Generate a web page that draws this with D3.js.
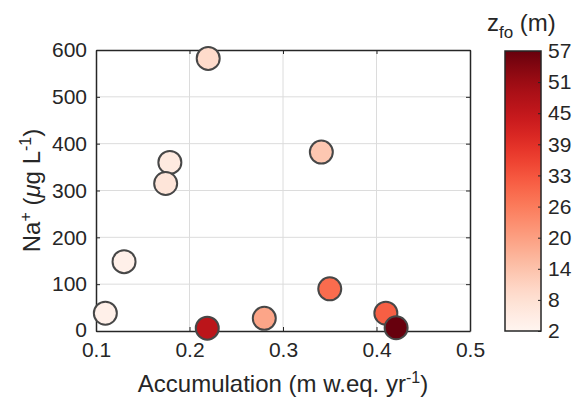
<!DOCTYPE html>
<html><head><meta charset="utf-8">
<script src="https://cdn.jsdelivr.net/npm/d3@7"></script>
<style>body{margin:0;background:#fff}svg{display:block}text{font-family:"Liberation Sans",Arial,Helvetica,sans-serif;fill:#262626}</style>
</head><body><svg id="c" width="573" height="408"></svg>
<script>
const accumulation = [0.220, 0.341, 0.179, 0.1745, 0.130, 0.110, 0.219, 0.280, 0.350, 0.410, 0.421];
const sodium       = [582, 382, 360, 315, 148, 38, 6, 27, 90, 38, 7];
const zfo          = [9.5, 13.5, 5.5, 7, 3.5, 3.5, 46, 19.5, 29, 31, 57];
const xTicks = [0.1, 0.2, 0.3, 0.4, 0.5];
const yTicks = [0, 100, 200, 300, 400, 500, 600];
const cbarTicks = [2, 8.11, 14.22, 20.33, 26.44, 32.56, 38.67, 44.78, 50.89, 57];
const cbarLabels = ["2","8","14","20","26","33","39","45","51","57"];

const svg = d3.select("#c");
const ink = "#262626";
const L=96,R=470,T=50,B=331;
const x = d3.scaleLinear().domain([0.1,0.5]).range([L,R]);
const y = d3.scaleLinear().domain([0,600]).range([B,T]);
const color = d3.scaleSequential(d3.interpolateReds).domain([2,57]);

// grid
const g = svg.append("g");
g.selectAll(".gx").data(xTicks.slice(1,-1)).join("line")
  .attr("x1",d=>x(d)).attr("x2",d=>x(d)).attr("y1",T).attr("y2",B)
  .attr("stroke","#dcdcdc").attr("stroke-width",1);
g.selectAll(".gy").data(yTicks.slice(1,-1)).join("line")
  .attr("y1",d=>y(d)).attr("y2",d=>y(d)).attr("x1",L).attr("x2",R)
  .attr("stroke","#dcdcdc").attr("stroke-width",1);

// axes
const fs = 21, lfs = 24;
const xa = svg.append("g").attr("transform",`translate(0,${B})`)
  .call(d3.axisBottom(x).tickValues(xTicks).tickSizeInner(-4).tickSizeOuter(0).tickPadding(11).tickFormat(d3.format(".1f")));
const ya = svg.append("g").attr("transform",`translate(${L},0)`)
  .call(d3.axisLeft(y).tickValues(yTicks).tickSizeInner(-4).tickSizeOuter(0).tickPadding(9));
const xt = svg.append("g").attr("transform",`translate(0,${T})`)
  .call(d3.axisTop(x).tickValues(xTicks).tickSizeInner(-4).tickSizeOuter(0).tickFormat(""));
const yr = svg.append("g").attr("transform",`translate(${R},0)`)
  .call(d3.axisRight(y).tickValues(yTicks).tickSizeInner(-4).tickSizeOuter(0).tickFormat(""));
[xa,ya,xt,yr].forEach(a=>{
  a.attr("font-size",null).attr("font-family",null);
  a.selectAll("path").attr("stroke",ink).attr("stroke-width",1.5);
  a.selectAll("line").attr("stroke",ink).attr("stroke-width",1);
  a.selectAll("text").attr("font-size",fs).style("fill",ink);
});
ya.selectAll(".tick").filter(d=>d===0).select("text").attr("dy","0.26em");

// points
svg.append("g").selectAll("circle").data(accumulation.map((a,i)=>({a,n:sodium[i],z:zfo[i]})))
  .join("circle").attr("cx",d=>x(d.a)).attr("cy",d=>y(d.n)).attr("r",11.5)
  .attr("fill",d=>color(d.z)).attr("stroke","#474747").attr("stroke-width",2);

// axis labels
const xl = svg.append("text").attr("x",(L+R)/2).attr("y",392).attr("text-anchor","middle").attr("font-size",lfs);
xl.append("tspan").text("Accumulation (m w.eq. yr");
xl.append("tspan").attr("dy",-9).attr("font-size",16).text("-1");
xl.append("tspan").attr("dy",9).text(")");

const yl = svg.append("text").attr("transform",`translate(40,${(T+B)/2}) rotate(-90)`).attr("text-anchor","middle").attr("font-size",lfs);
yl.append("tspan").text("Na");
yl.append("tspan").attr("dy",-9).attr("font-size",16).text("+");
yl.append("tspan").attr("dy",9).text(" (");
yl.append("tspan").attr("font-style","italic").text("μ");
yl.append("tspan").text("g L");
yl.append("tspan").attr("dy",-9).attr("font-size",16).text("-1");
yl.append("tspan").attr("dy",9).text(")");

// colorbar
const cL=505,cR=541,cT=51,cB=331;
const cy = d3.scaleLinear().domain([2,57]).range([cB,cT]);
const defs = svg.append("defs");
const grad = defs.append("linearGradient").attr("id","gr").attr("x1",0).attr("y1",1).attr("x2",0).attr("y2",0);
d3.range(0,1.0001,0.05).forEach(t=>grad.append("stop").attr("offset",t).attr("stop-color",d3.interpolateReds(t)));
svg.append("rect").attr("x",cL).attr("y",cT).attr("width",cR-cL).attr("height",cB-cT).attr("fill","url(#gr)");
const ca = svg.append("g").attr("transform",`translate(${cR},0)`)
  .call(d3.axisRight(cy).tickValues(cbarTicks).tickSizeInner(-3).tickSizeOuter(0).tickPadding(7).tickFormat((d,i)=>cbarLabels[i]));
ca.attr("font-size",null).attr("font-family",null);
ca.selectAll("path").remove();
ca.selectAll("line").attr("stroke",ink);
ca.selectAll("text").attr("font-size",fs).style("fill",ink);
svg.append("rect").attr("x",cL).attr("y",cT).attr("width",cR-cL).attr("height",cB-cT).attr("fill","none").attr("stroke",ink).attr("stroke-width",1.5);

const ct = svg.append("text").attr("x",487).attr("y",31).attr("font-size",lfs);
ct.append("tspan").text("z");
ct.append("tspan").attr("dy",7).attr("font-size",17).text("fo");
ct.append("tspan").attr("dy",-7).text(" (m)");
</script></body></html>
